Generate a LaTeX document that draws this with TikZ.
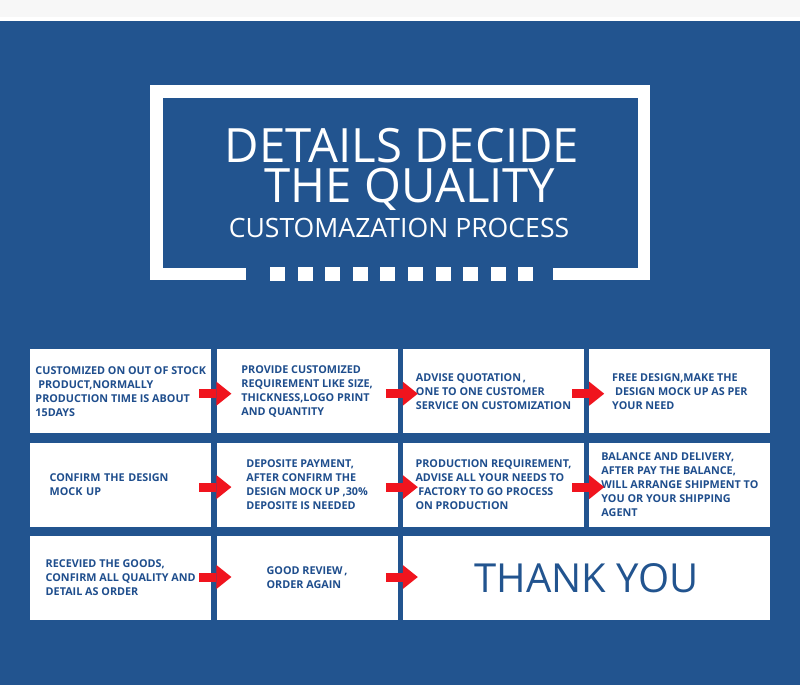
\documentclass[tikz,border=0pt]{standalone}
\usepackage{fontspec}
\setmainfont{Open Sans}
\usetikzlibrary{arrows.meta, positioning}
\definecolor{bgblue}{HTML}{22548F}
\definecolor{inkblue}{HTML}{1F4E8D}
\definecolor{arrowred}{HTML}{F0141E}
\definecolor{topgrey}{HTML}{F7F7F7}
\tikzstyle{card} = [rectangle, fill=white, minimum width=181pt, minimum height=84pt,
  inner sep=0pt, align=left, text=inkblue, font=\fontsize{10.8}{14}\selectfont\bfseries]
\tikzstyle{flow} = [draw=arrowred, line width=9pt,
  -{Triangle[length=15pt, width=24pt, line width=0pt]}, shorten <=-12pt, shorten >=-15pt]
\tikzstyle{headline} = [white, inner sep=0pt, align=center]
\newcommand{\lsp}{\hspace*{0.26em}}

\begin{document}
\begin{tikzpicture}[x=1pt, y=-1pt]
    \useasboundingbox (0,0) rectangle (800,685);
    \fill[topgrey] (0,0) rectangle (800,17);
    \fill[bgblue] (0,21) rectangle (800,685);
    % title frame
    \draw[white, line width=12.5pt] (246,273.75) -| (156.25,91.25) -| (643.75,273.75) -- (553,273.75);
    \foreach \i in {0,...,9}
      \fill[white] (270+27.6*\i,267) rectangle ++(15,14);
    \node[headline, anchor=north, font=\fontsize{47.3}{40}\selectfont] (head) at (402,128)
      {DETAILS DECIDE\\\hspace*{16pt}THE QUALITY};
    \node[headline, anchor=base, font=\fontsize{26.6}{30}\selectfont] (subhead) at (399,237) {CUSTOMAZATION PROCESS};

    % row 1
    \node[card, anchor=north west] (step1) at (30,349) {CUSTOMIZED ON OUT OF STOCK\\\lsp PRODUCT,NORMALLY\\PRODUCTION TIME IS ABOUT\\15DAYS};
    \node[card, right=5pt of step1] (step2) {PROVIDE CUSTOMIZED\\REQUIREMENT LIKE SIZE,\\THICKNESS,LOGO PRINT\\AND QUANTITY};
    \node[card, right=5pt of step2] (step3) {ADVISE QUOTATION\,,\\ONE TO ONE CUSTOMER\\SERVICE ON CUSTOMIZATION};
    \node[card, right=5pt of step3] (step4) {FREE DESIGN,MAKE THE\\\lsp DESIGN MOCK UP AS PER\\YOUR NEED};
    % row 2
    \node[card, text width=142pt, below=9pt of step1] (step5) {CONFIRM THE DESIGN\\MOCK UP};
    \node[card, right=5pt of step5] (step6) {DEPOSITE PAYMENT,\\AFTER CONFIRM THE\\DESIGN MOCK UP ,30\%\\DEPOSITE IS NEEDED};
    \node[card, right=5pt of step6] (step7) {PRODUCTION REQUIREMENT,\\ADVISE ALL YOUR NEEDS TO\\\lsp FACTORY TO GO PROCESS\\ON PRODUCTION};
    \node[card, right=5pt of step7] (step8) {BALANCE AND DELIVERY,\\AFTER PAY THE BALANCE,\\WILL ARRANGE SHIPMENT TO\\YOU OR YOUR SHIPPING\\AGENT};
    % row 3
    \node[card, below=9pt of step5] (step9) {RECEVIED THE GOODS,\\CONFIRM ALL QUALITY AND\\DETAIL AS ORDER};
    \node[card, right=5pt of step9] (step10) {GOOD REVIEW\,,\\ORDER AGAIN};
    \node[card, minimum width=367pt, right=5pt of step10, text=bgblue,
      font=\fontsize{40}{48}\selectfont] (thanks) {THANK YOU};

    \draw[flow] ([yshift=-2.5pt]step1.east) -- ([yshift=-2.5pt]step2.west);
    \draw[flow] ([yshift=-2.5pt]step2.east) -- ([yshift=-2.5pt]step3.west);
    \draw[flow] ([yshift=-2.5pt]step3.east) -- ([yshift=-2.5pt]step4.west);
    \draw[flow] ([yshift=-2.5pt]step5.east) -- ([yshift=-2.5pt]step6.west);
    \draw[flow] ([yshift=-2.5pt]step6.east) -- ([yshift=-2.5pt]step7.west);
    \draw[flow] ([yshift=-2.5pt]step7.east) -- ([yshift=-2.5pt]step8.west);
    \draw[flow] ([yshift=1pt]step9.east) -- ([yshift=1pt]step10.west);
    \draw[flow] ([yshift=1pt]step10.east) -- ([yshift=1pt]thanks.west);
\end{tikzpicture}
\end{document}
